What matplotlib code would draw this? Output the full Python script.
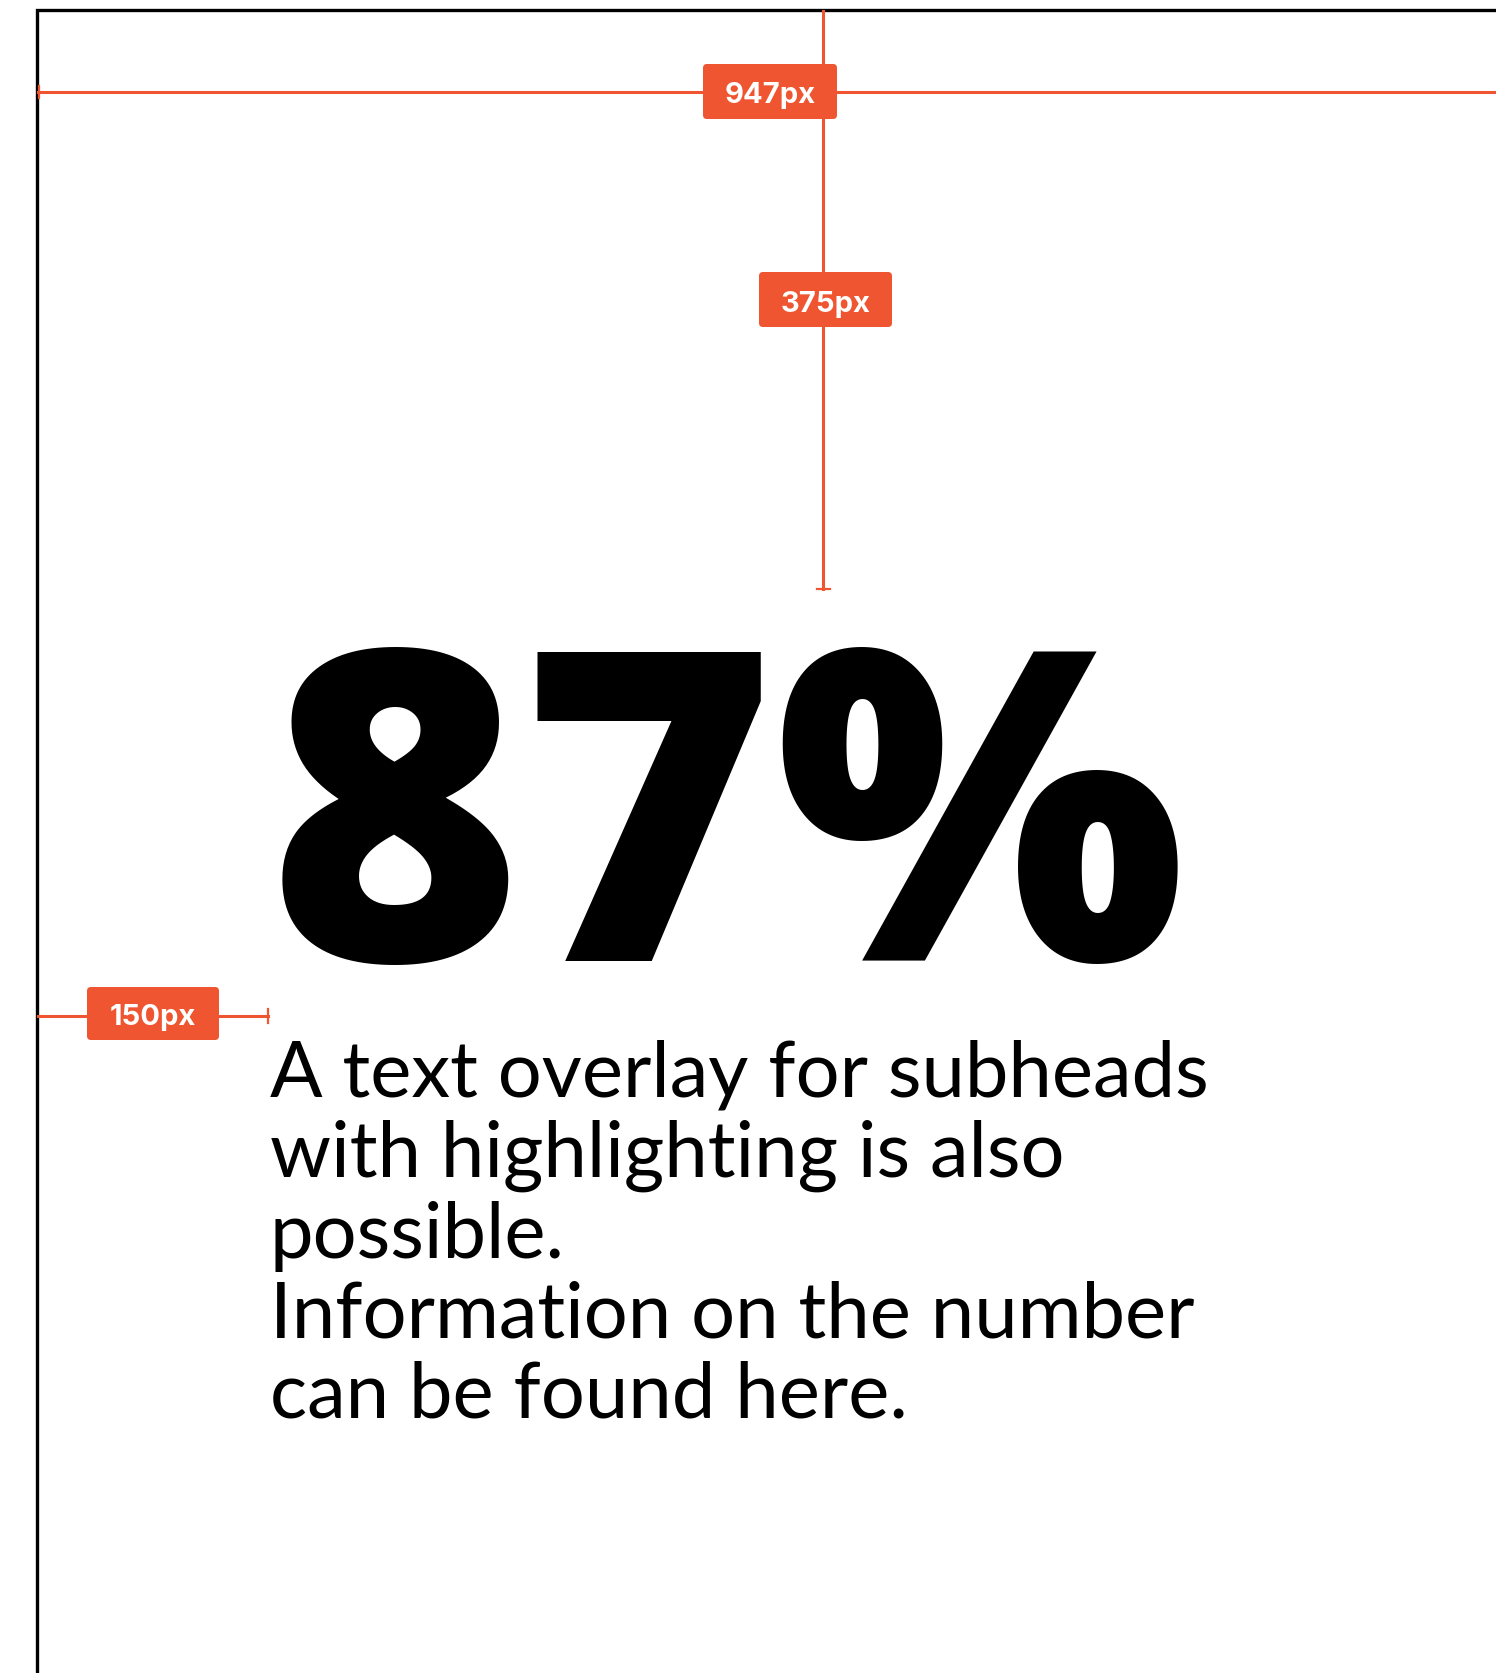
import matplotlib
matplotlib.use("Agg")
import matplotlib.pyplot as plt
from matplotlib.patches import FancyBboxPatch

# ---- content ----
big_number = "87%"
subhead_lines = [
    "A text overlay for subheads",
    "with highlighting is also",
    "possible.",
    "Information on the number",
    "can be found here.",
]
dim_labels = ["947px", "375px", "150px"]

ORANGE = "#EE5530"
W, H = 1496, 1674

fig = plt.figure(figsize=(W / 100, H / 100), dpi=100)
ax = fig.add_axes([0, 0, 1, 1])
ax.set_xlim(0, W)
ax.set_ylim(H, 0)
ax.axis("off")
fig.patch.set_facecolor("white")

# frame (artboard border)
ax.plot([37, 37, W + 5], [H + 5, 11, 11], color="black", lw=2.4,
        solid_joinstyle="miter", zorder=1)

# horizontal dimension line (947px)
ax.plot([38, W + 5], [93, 93], color=ORANGE, lw=2.2, zorder=2)
ax.plot([39, 39], [87, 99], color=ORANGE, lw=1.6, zorder=2)

# vertical dimension line (375px)
ax.plot([823, 823], [12, 590], color=ORANGE, lw=2.2, zorder=2)
ax.plot([817, 830], [590, 590], color=ORANGE, lw=1.6, zorder=2)

# horizontal dimension line (150px)
ax.plot([38, 268], [1017, 1017], color=ORANGE, lw=2.2, zorder=2)
ax.plot([268, 268], [1010, 1024], color=ORANGE, lw=1.6, zorder=2)

# label boxes: (x0, y0, x1, y1, baseline)
boxes = [
    (703, 65, 837, 120, 103),
    (759, 273, 892, 328, 312),
    (87, 988, 219, 1041, 1025),
]
for (x0, y0, x1, y1, base), lab in zip(boxes, dim_labels):
    p = FancyBboxPatch((x0, y0), x1 - x0, y1 - y0,
                       boxstyle="round,pad=0,rounding_size=4",
                       fc=ORANGE, ec="none", zorder=3)
    ax.add_patch(p)
    ax.text((x0 + x1) / 2, base, lab, ha="center", va="baseline",
            color="white", fontsize=21, fontweight="bold",
            family=["Inter", "Liberation Sans", "DejaVu Sans"], zorder=4)

# big number
ax.text(268, 961, big_number, ha="left", va="baseline", color="black",
        fontsize=312, fontweight="heavy",
        family=["Open Sans", "DejaVu Sans"], zorder=4)

# subhead lines
baselines = [1096, 1177, 1258, 1338, 1418]
for line, b in zip(subhead_lines, baselines):
    ax.text(270, b, line, ha="left", va="baseline", color="black",
            fontsize=56, family=["Lato", "DejaVu Sans"], zorder=4)

fig.savefig("out.png", dpi=100, facecolor="white")
